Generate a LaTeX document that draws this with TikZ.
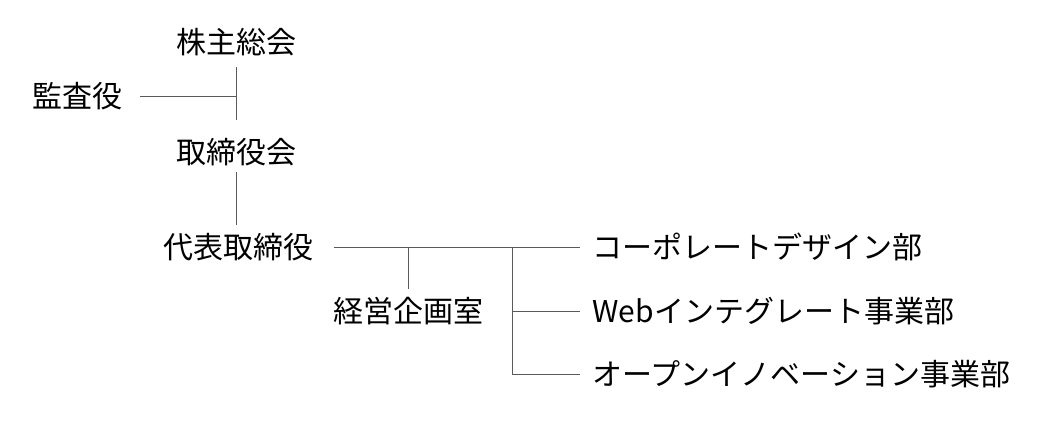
\documentclass[tikz,border=0pt]{standalone}
\usepackage{fontspec}
\newfontfamily\jp{Noto Sans CJK JP}
\definecolor{line1}{RGB}{90, 90, 90}

\begin{document}
\begin{tikzpicture}[x=1pt, y=-1pt, line width=1pt,
  lbl/.style={inner sep=0pt, font=\jp\fontsize{30}{30}\selectfont},
  conn/.style={draw=line1}]
  \useasboundingbox (0,0) rectangle (1062,421);
  \node[lbl] (kabu) at (236,42) {株主総会};
  \node[lbl] (kansa) at (77,96) {監査役};
  \node[lbl] (tori) at (236,152) {取締役会};
  \node[lbl] (daihyo) at (238,247) {代表取締役};
  \node[lbl] (keiei) at (408,311) {経営企画室};
  \node[lbl, anchor=west] (corp) at (592,247) {コーポレートデザイン部};
  \node[lbl, anchor=west] (web) at (592,311) {Webインテグレート事業部};
  \node[lbl, anchor=west] (open) at (592,374) {オープンイノベーション事業部};
  \coordinate (br) at (512,247);
  \draw[conn, shorten <=11pt, shorten >=18pt] (kabu) -- (tori);
  \draw[conn, shorten <=17pt] (kansa.east) -- (kansa.east -| kabu);
  \draw[conn, shorten <=6pt, shorten >=8pt] (tori.south) -- (tori.south |- daihyo.north);
  \draw[conn, shorten <=20pt, shorten >=12pt] (daihyo) -- (corp);
  \draw[conn, shorten <=8pt] (keiei.north) -- (keiei.north |- daihyo);
  \foreach \to in {web, open}
   \draw[conn, shorten >=12pt] (br) |- (\to.west);
\end{tikzpicture}
\end{document}
